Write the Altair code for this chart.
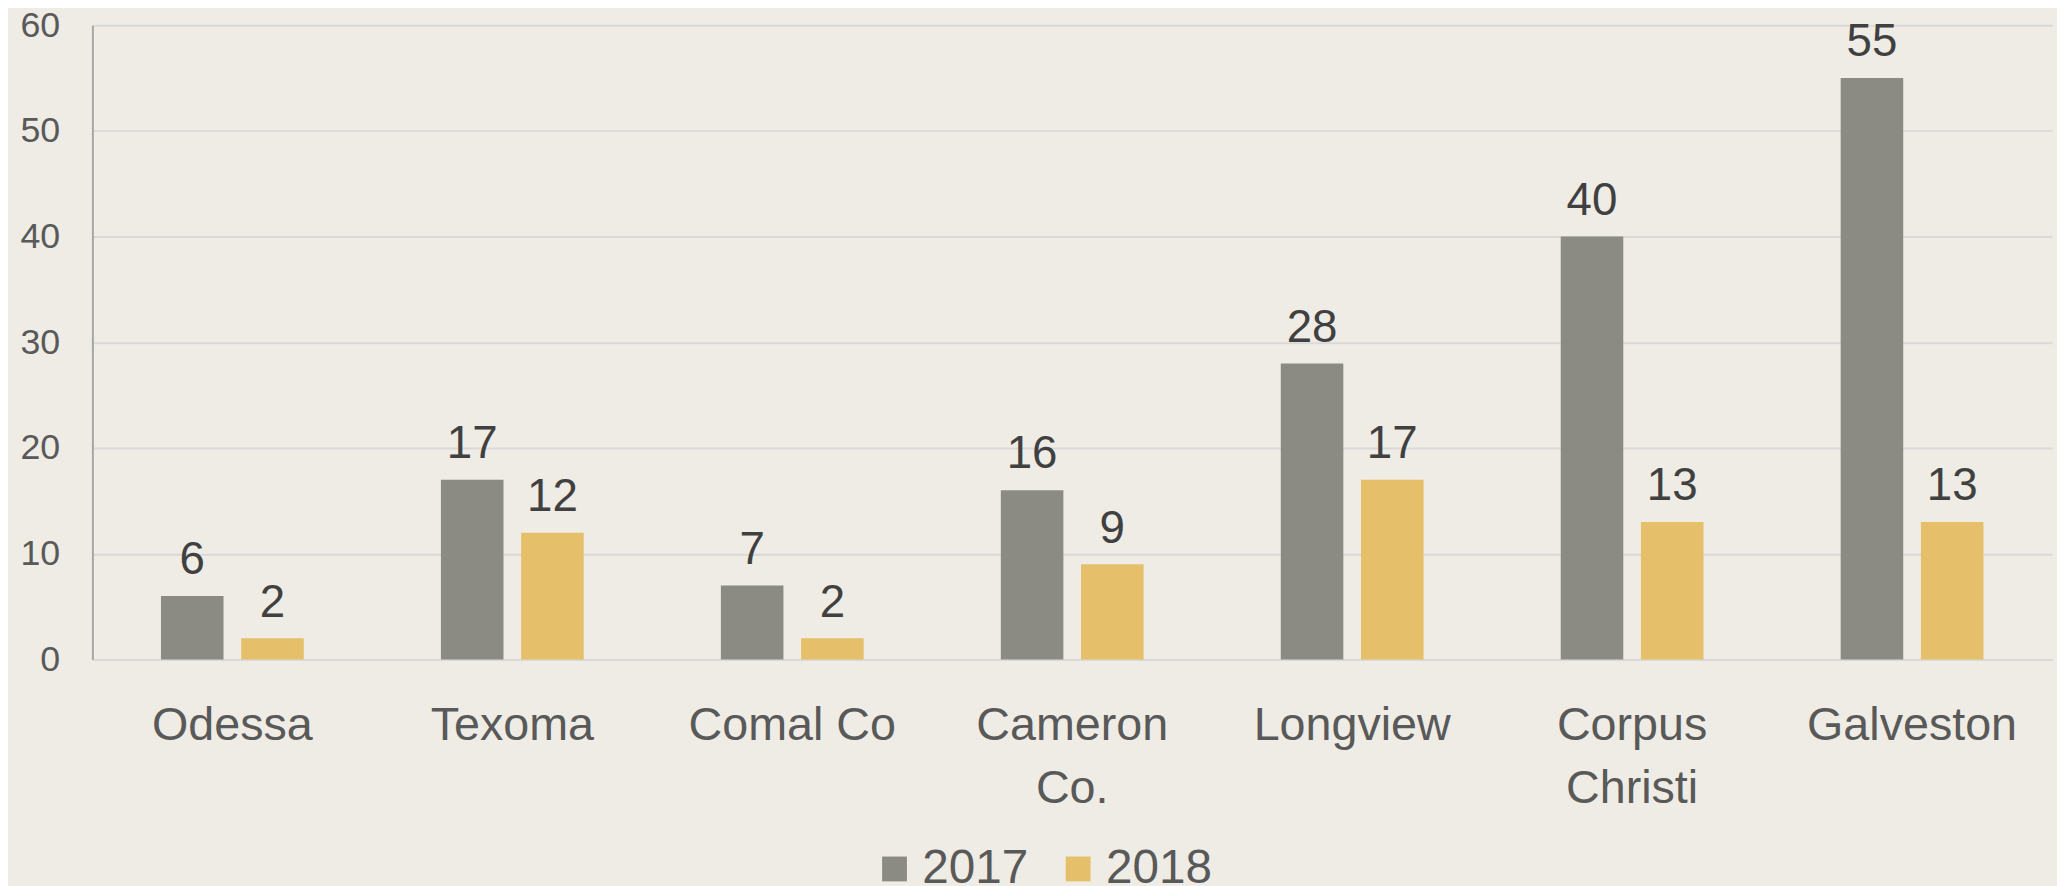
import altair as alt
import pandas as pd

cities = ["Odessa", "Texoma", "Comal Co", "Cameron Co.", "Longview", "Corpus Christi", "Galveston"]
v2017 = [6, 17, 7, 16, 28, 40, 55]
v2018 = [2, 12, 2, 9, 17, 13, 13]
years = ["2017", "2018"]
colors = ["#8B8B84", "#E5BF69"]

rows = []
for c, a, b in zip(cities, v2017, v2018):
    rows.append({"city": c, "year": "2017", "value": a})
    rows.append({"city": c, "year": "2018", "value": b})
df = pd.DataFrame(rows)

FONT = "Liberation Sans"

label_expr = ("datum.label == 'Cameron Co.' ? ['Cameron', 'Co.'] : "
              "datum.label == 'Corpus Christi' ? ['Corpus', 'Christi'] : datum.label")

x = alt.X("city:N", sort=cities, title=None,
          scale=alt.Scale(paddingInner=0.49, paddingOuter=0.245),
          axis=alt.Axis(labelAngle=0, labelFontSize=47, labelColor="#595959", labelFont=FONT,
                        labelPadding=44, labelLineHeight=63, labelBaseline="top", labelLimit=500,
                        ticks=False, domainColor="#D9D9D9", domainWidth=2,
                        labelExpr=label_expr))
xo = alt.XOffset("year:N", sort=years, scale=alt.Scale(paddingInner=0.22))
y = alt.Y("value:Q", title=None,
          scale=alt.Scale(domain=[0, 60], nice=False),
          axis=alt.Axis(values=[0, 10, 20, 30, 40, 50, 60], labelFontSize=36, labelColor="#595959",
                        labelFont=FONT, labelPadding=33, ticks=False, domain=True,
                        domainColor="#A6A6A6", domainWidth=2,
                        grid=True, gridColor="#D9D9D9", gridWidth=2))

color = alt.Color("year:N", sort=years,
                  scale=alt.Scale(domain=years, range=colors),
                  legend=alt.Legend(title=None, orient="none", direction="horizontal",
                                    legendX=784, legendY=826,
                                    symbolType="square", symbolSize=625, symbolStrokeWidth=0,
                                    labelFontSize=48, labelColor="#595959", labelFont=FONT,
                                    labelOffset=4, columnPadding=26, symbolOpacity=1))

bars = alt.Chart(df).mark_bar().encode(x=x, xOffset=xo, y=y, color=color)
text = alt.Chart(df).mark_text(baseline="bottom", dy=-12, fontSize=46, color="#404040",
                               font=FONT).encode(x=x, xOffset=xo, y=y, text="value:Q")

chart = (bars + text).properties(
    width=1974, height=639,
    background="#EEECE4",
    padding={"left": 85, "top": 14, "right": 5, "bottom": 240},
    autosize=alt.AutoSizeParams(type="none"),
).configure_view(stroke=None)

chart.save("out.html", embed_options={"renderer": "svg", "actions": False})
